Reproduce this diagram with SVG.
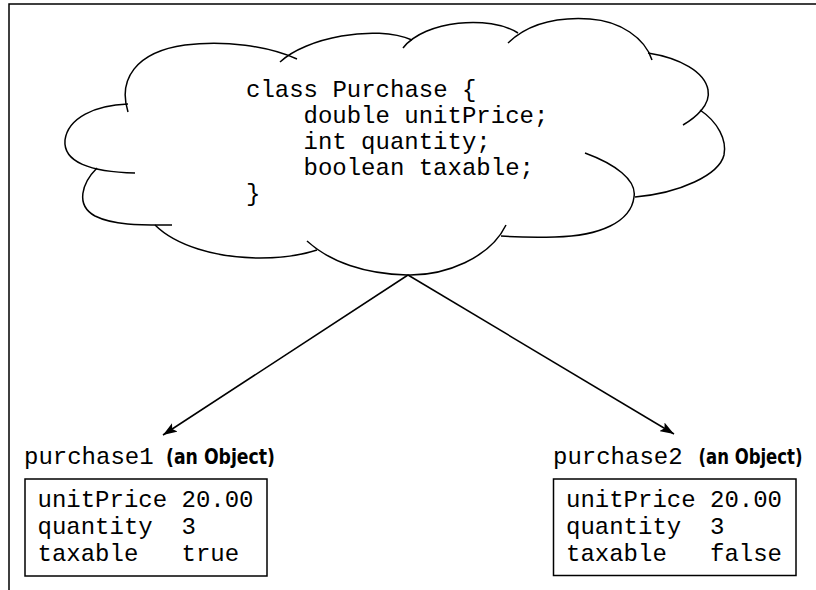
<svg xmlns="http://www.w3.org/2000/svg" width="816" height="590" viewBox="0 0 816 590">
<defs>
<style>
.ln{fill:none;stroke:#000;stroke-width:1.5}
.mono{font-family:"Liberation Mono","Courier New",monospace;font-size:24px;fill:#000}
.bold{font-family:"DejaVu Sans Condensed","DejaVu Sans","Liberation Sans Narrow",sans-serif;font-stretch:condensed;font-weight:bold;font-size:21px;fill:#000}
.box{fill:#fff;stroke:#000;stroke-width:1.5}
</style>
<marker id="ah" viewBox="0 0 14 10" refX="14" refY="5" markerWidth="14" markerHeight="10" markerUnits="userSpaceOnUse" orient="auto">
<path d="M0,0 L14,5 L0,10 L3,5 z" fill="#000"/>
</marker>
</defs>
<rect width="816" height="590" fill="#fff"/>
<path class="ln" d="M9,590 V4 H816" stroke-width="2"/>
<g id="cloud">
<path class="ln" d="M128,112 C118,80 135,52 185,45 C225,40 268,46 297,59"/>
<path class="ln" d="M280,62 C305,38 375,24 412,40"/>
<path class="ln" d="M403,48 C425,20 490,15 518,33"/>
<path class="ln" d="M508,43 C530,22 560,17 590,19 C620,21 645,38 652,60"/>
<path class="ln" d="M648,53 C680,58 705,72 708,90 C711,105 695,118 683,125"/>
<path class="ln" d="M700,110 C718,122 727,140 724,155 C719,175 680,193 635,197"/>
<path class="ln" d="M585,153 C615,164 637,180 634,197 C631,222 600,236 555,237 C535,237.5 515,237 501,236"/>
<path class="ln" d="M307,241 C330,262 365,274 407,275 C445,276 490,258 506,225"/>
<path class="ln" d="M155,225 C175,245 215,258 260,258 C285,258 305,254 317,250"/>
<path class="ln" d="M97,168 C82,183 75,205 95,216 C115,226 145,225 172,225"/>
<path class="ln" d="M128,104 C95,105 68,118 65,140 C63,162 90,172 135,173"/>
<text class="mono" x="246" y="97">class Purchase {</text>
<text class="mono" x="303.5" y="123">double unitPrice;</text>
<text class="mono" x="303.5" y="149">int quantity;</text>
<text class="mono" x="303.5" y="175">boolean taxable;</text>
<text class="mono" x="246" y="201">}</text>
</g>
<g id="connectors">
<line class="ln" x1="408" y1="275" x2="163" y2="435" marker-end="url(#ah)"/>
<line class="ln" x1="408" y1="275" x2="674" y2="434" marker-end="url(#ah)"/>
</g>
<g id="purchase1">
<text class="mono" x="24" y="464">purchase1</text>
<text class="bold" x="166" y="464" textLength="109" lengthAdjust="spacingAndGlyphs">(an Object)</text>
<rect class="box" x="25" y="479" width="242" height="97"/>
<text class="mono" x="37.5" y="507">unitPrice</text>
<text class="mono" x="181.5" y="507">20.00</text>
<text class="mono" x="37.5" y="534">quantity</text>
<text class="mono" x="181.5" y="534">3</text>
<text class="mono" x="37.5" y="561">taxable</text>
<text class="mono" x="181.5" y="561">true</text>
</g>
<g id="purchase2">
<text class="mono" x="553" y="464">purchase2</text>
<text class="bold" x="698.5" y="464" textLength="104" lengthAdjust="spacingAndGlyphs">(an Object)</text>
<rect class="box" x="553.5" y="479" width="242.5" height="96.5"/>
<text class="mono" x="566" y="507">unitPrice</text>
<text class="mono" x="710" y="507">20.00</text>
<text class="mono" x="566" y="534">quantity</text>
<text class="mono" x="710" y="534">3</text>
<text class="mono" x="566" y="561">taxable</text>
<text class="mono" x="710" y="561">false</text>
</g>
</svg>
